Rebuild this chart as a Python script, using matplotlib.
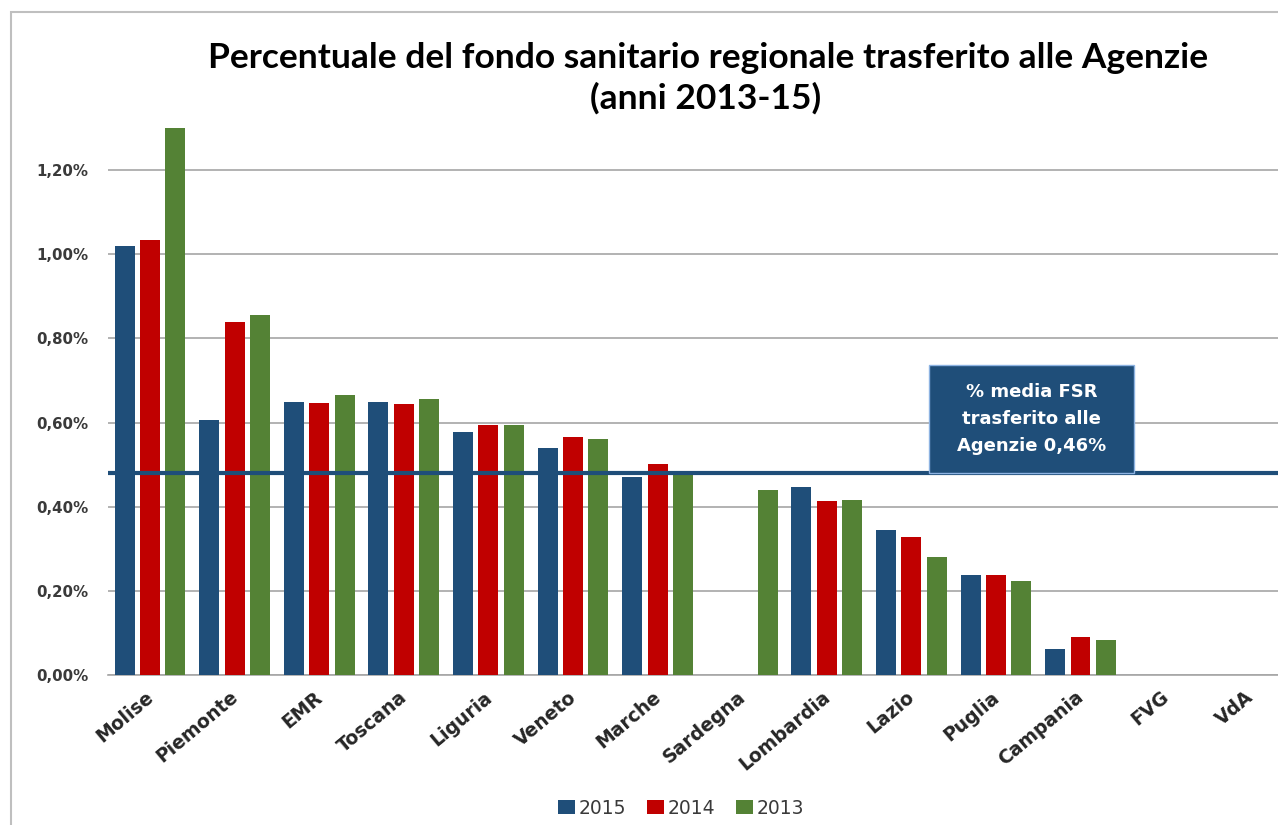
import matplotlib
matplotlib.use('Agg')
import matplotlib.pyplot as plt
import matplotlib.transforms as mtransforms
import numpy as np
from matplotlib.patches import Rectangle
from matplotlib.ticker import FuncFormatter

# ===== DATA =====
regions = ['Molise', 'Piemonte', 'EMR', 'Toscana', 'Liguria', 'Veneto', 'Marche',
           'Sardegna', 'Lombardia', 'Lazio', 'Puglia', 'Campania', 'FVG', 'VdA']
years = ['2015', '2014', '2013']
# values in percent (0 = no bar)
pct_2015 = [1.02, 0.606, 0.649, 0.649, 0.578, 0.539, 0.471, 0.0, 0.446, 0.345, 0.237, 0.062, 0.0, 0.0]
pct_2014 = [1.033, 0.838, 0.646, 0.643, 0.595, 0.566, 0.501, 0.0, 0.413, 0.329, 0.237, 0.091, 0.0, 0.0]
pct_2013 = [1.299, 0.856, 0.665, 0.656, 0.593, 0.562, 0.481, 0.439, 0.416, 0.280, 0.224, 0.084, 0.0, 0.0]
avg_line = 0.48
avg_label = '% media FSR\ntrasferito alle\nAgenzie 0,46%'
yticks = [0.0, 0.2, 0.4, 0.6, 0.8, 1.0, 1.2]

# ===== STYLE =====
COLORS = ['#1F4E79', '#C00000', '#548235']
GRID_COLOR = '#A6A6A6'
TEXT_COLOR = '#3A3A3A'
WIDE_FONT = ['DejaVu Sans']
TITLE_FONT = ['Lato', 'DejaVu Sans']
plt.rcParams['font.family'] = WIDE_FONT

W, H = 1278, 825
fig = plt.figure(figsize=(W / 100, H / 100), dpi=100)
ax = fig.add_axes([107.7 / W, 1 - 675 / H, (1292 - 107.7) / W, (675 - 85.9) / H])

x = np.arange(len(regions))
series = [pct_2015, pct_2014, pct_2013]
step = 0.30
width = 0.236
for i, (vals, yr) in enumerate(zip(series, years)):
    ax.bar(x + (i - 1) * step, vals, width=width, color=COLORS[i], label=yr, zorder=3)

ax.set_xlim(-0.5, len(regions) - 0.5)
ax.set_ylim(0, 1.4)
ax.set_yticks(yticks)
ax.yaxis.set_major_formatter(FuncFormatter(lambda v, p: f'{v:.2f}%'.replace('.', ',')))
ax.grid(axis='y', color=GRID_COLOR, linewidth=1.2, zorder=0)
ax.set_axisbelow(True)
for s in ['top', 'right', 'left']:
    ax.spines[s].set_visible(False)
ax.spines['bottom'].set_color(GRID_COLOR)
ax.spines['bottom'].set_linewidth(1.2)
ax.tick_params(axis='y', length=0, pad=14, labelsize=10.8, labelcolor=TEXT_COLOR)
ax.tick_params(axis='x', length=0, pad=9)
ax.set_xticks(x)
ax.set_xticklabels(regions, rotation=40, ha='right', va='top', fontsize=13.5,
                   fontweight='bold', color='#262626')
# nudge labels a little to the right, as in the original
shift = mtransforms.ScaledTranslation(7 / 100, 0, fig.dpi_scale_trans)
for lab in ax.get_xticklabels():
    lab.set_transform(lab.get_transform() + shift)
for lab in ax.get_yticklabels():
    lab.set_fontweight('bold')

# average line
ax.axhline(avg_line, color='#1F4E79', linewidth=3, zorder=4)

# annotation box
ax.add_patch(Rectangle((9.21, avg_line), 11.63 - 9.21, 0.737 - avg_line,
                       facecolor='#1F4E79', edgecolor='#8DB3E2', linewidth=1, zorder=5))
ax.text((9.21 + 11.63) / 2, 0.608, avg_label, ha='center', va='center',
        color='white', fontsize=13, fontweight='bold', linespacing=1.65, zorder=6)

# title
fig.text(708 / W, 1 - 58 / H, 'Percentuale del fondo sanitario regionale trasferito alle Agenzie',
         ha='center', va='center', fontsize=25.5, fontweight='bold', color='black',
         family=TITLE_FONT)
fig.text(706 / W, 1 - 98 / H, '(anni 2013-15)', ha='center', va='center',
         fontsize=25.5, fontweight='bold', color='black', family=TITLE_FONT)

# legend
leg = fig.legend(loc='center', bbox_to_anchor=(681 / W, 1 - 808 / H), ncol=3, frameon=False,
                 handlelength=0.9, handleheight=0.7, handletextpad=0.2, columnspacing=1.1,
                 fontsize=13.5)
for t in leg.get_texts():
    t.set_color(TEXT_COLOR)

# chart border
fig.patches.append(Rectangle((11 / W, -0.1), 1.1, (1 - 12 / H) + 0.1, transform=fig.transFigure,
                             fill=False, edgecolor='#BFBFBF', linewidth=1.5))

fig.savefig('out.png', dpi=100)
